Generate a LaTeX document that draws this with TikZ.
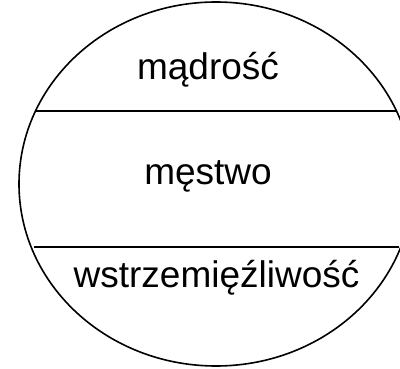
\documentclass[tikz,border=0pt]{standalone}
\usepackage{fontspec}
\setmainfont{Liberation Sans}
\usepackage{tikz}

\begin{document}
\begin{tikzpicture}[x=1pt,y=-1pt,
        part/.style={font=\fontsize{37}{40}\selectfont,anchor=base,inner sep=0pt},
        line/.style={draw=black,line width=1.6pt}]
        \useasboundingbox (0,0) rectangle (400,369);
        \clip (0,0) rectangle (400,369);

        \draw[line] (216,184) ellipse [x radius=197,y radius=182];

        \coordinate (g_l) at (36,111);
        \coordinate (g_r) at (397,111);
        \coordinate (d_l) at (34,247);
        \coordinate (d_r) at (399,247);
        \draw[line] (g_l) -- (g_r);
        \draw[line] (d_l) -- (d_r);

        \node[part] (madrosc) at (208,80) {mądrość};
        \node[part] (mestwo) at (208,185) {męstwo};
        \node[part] (wstrzem) at (216.5,288) {wstrzemięźliwość};
\end{tikzpicture}
\end{document}
